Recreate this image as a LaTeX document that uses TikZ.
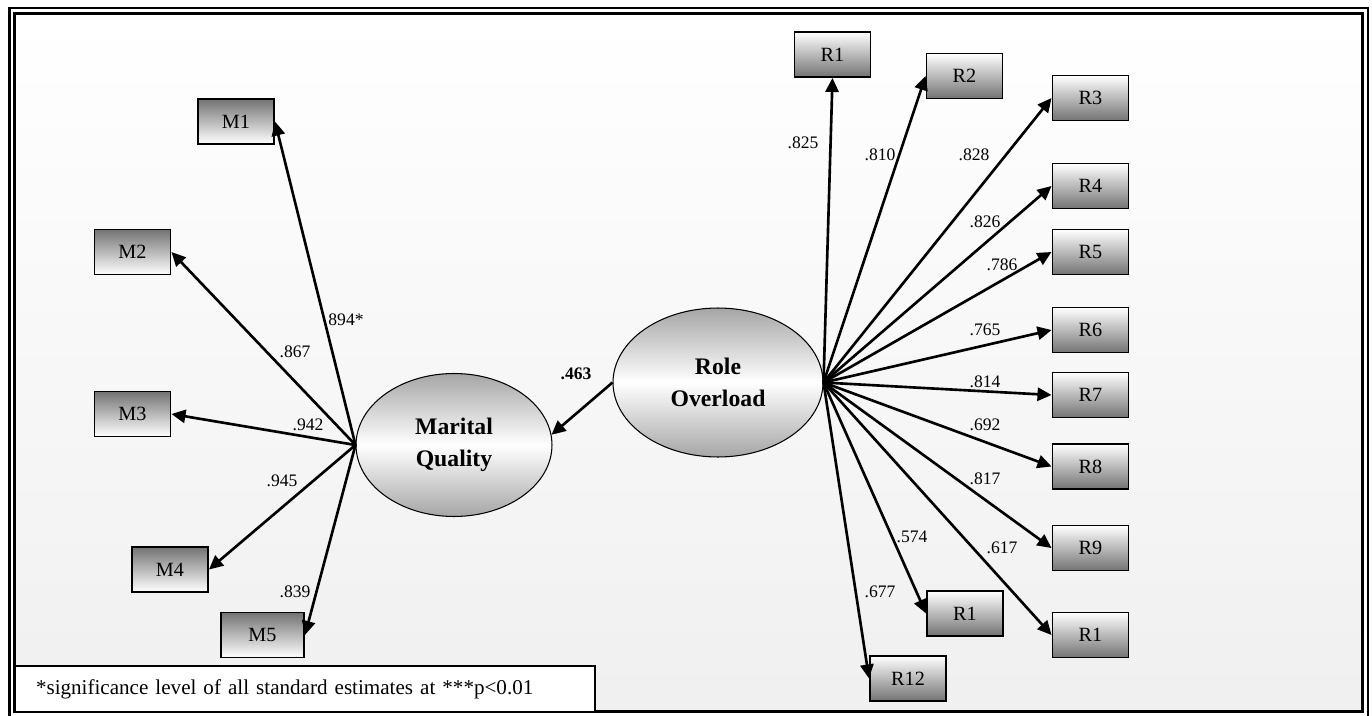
\documentclass[tikz,border=0pt]{standalone}
\usepackage{fontspec}
\setmainfont{Liberation Serif}
\usetikzlibrary{arrows.meta,shapes.geometric}

\begin{document}
\begin{tikzpicture}[x=0.02cm, y=-0.02cm,
    every node/.style={font=\fontsize{10}{12}\selectfont},
    mbox/.style={draw, line width=1.1pt, minimum width=1.52cm, minimum height=0.9cm, inner sep=0pt,
        top color=black!55, bottom color=white, font=\fontsize{11.5}{13}\selectfont},
    rbox/.style={mbox, top color=white, bottom color=black!55},
    factor/.style={ellipse, draw, line width=0.6pt, inner sep=0pt, align=center,
        top color=black!35, bottom color=black!35, middle color=white,
        font=\fontsize{13.5}{18}\selectfont\bfseries},
    notebox/.style={draw, fill=white, line width=1.1pt, minimum width=11.6cm, minimum height=0.92cm,
        text width=10.76cm, inner xsep=0.42cm, align=left, font=\fontsize{12}{14}\selectfont},
    loading/.style={line width=1.5pt, -{Triangle[length=8pt, width=7.5pt]}}]
    \useasboundingbox (0,0) rectangle (1372,716);
    % Frame and background
    \draw[line width=1.5pt] (9.7,8) rectangle (1368,722);
    \draw[line width=1.6pt, top color=white, bottom color=black!6] (14.3,13.8) rectangle (1362.4,711.3);
    % Note
    \node (note) [notebox] at (305,689) {*significance level of all standard estimates at ***p<0.01};
    % Indicators
    \foreach \name/\txt/\x/\y in {m1/M1/236/121.5, m2/M2/132.5/252, m3/M3/132.5/414, m4/M4/170/569.5} {
        \node[mbox] (\name) at (\x,\y) {\txt};
    }
    \node[mbox, minimum width=1.66cm] (m5) at (262.5,635) {M5};
    \foreach \name/\txt/\x/\y in {r1/R1/832.5/54.5, r2/R2/964.5/76, r3/R3/1090.5/98, r4/R4/1090.5/186,
        r5/R5/1090.5/252, r6/R6/1090.5/330, r7/R7/1090.5/395, r8/R8/1090.5/466.5, r9/R9/1090.5/548,
        r10/R1/1090.5/635, r11/R1/965/613.5, r12/R12/908/678.5} {
        \node[rbox] (\name) at (\x,\y) {\txt};
    }
    % Latent factors
    \node[factor, minimum width=3.92cm, minimum height=2.86cm] (mq) at (454,445) {Marital\\Quality};
    \node[factor, minimum width=4.2cm, minimum height=2.98cm] (ro) at (718,382.5) {Role\\Overload};
    % Paths
    \draw[loading] (ro.west) -- (mq.6);
    \foreach \i in {1,...,5} {
        \draw[loading] (mq.west) -- (m\i.east);
    }
    \draw[loading] (ro.east) -- (r1.south);
    \foreach \i in {2,...,12} {
        \draw[loading] (ro.east) -- (r\i.west);
    }
    % Estimates
    \node[font=\fontsize{10}{12}\selectfont\bfseries] (est) at (576,374) {.463};
    \foreach \name/\txt/\x/\y in {lm1/894*/346/320, lm2/.867/295/352, lm3/.942/308/425, lm4/.945/282/481,
        lm5/.839/295/592, lr1/.825/803/143, lr2/.810/880/155, lr3/.828/974/155, lr4/.826/985/222,
        lr5/.786/1002/265, lr6/.765/985/330, lr7/.814/985/382, lr8/.692/985/425, lr9/.817/985/479,
        lr10/.617/1002/548, lr11/.574/912/537, lr12/.677/880/592} {
        \node (\name) at (\x,\y) {\txt};
    }
\end{tikzpicture}
\end{document}
